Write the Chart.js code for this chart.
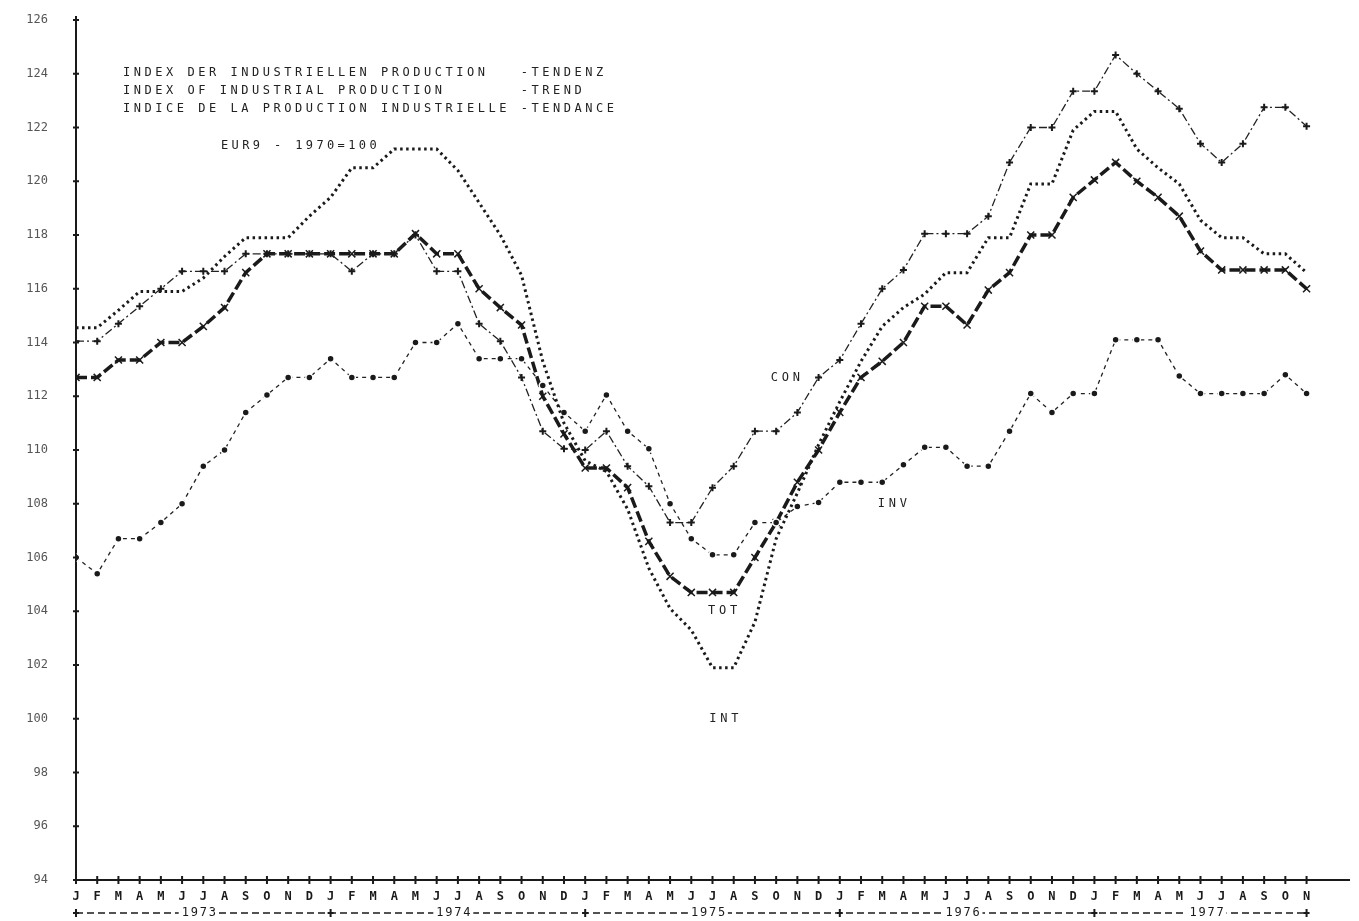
<!DOCTYPE html>
<html>
<head>
<meta charset="utf-8">
<script src="https://cdn.jsdelivr.net/npm/chart.js@4.4.1/dist/chart.umd.min.js"></script>
<style>
  html, body { margin: 0; padding: 0; background: #fff; }
  #wrap { width: 1359px; height: 921px; position: relative; }
</style>
</head>
<body>
<div id="wrap"><canvas id="c"></canvas></div>
<script>
// month letters and years for the time axis (Jan 1973 .. Nov 1977)
var MONTHS = ['J', 'F', 'M', 'A', 'M', 'J', 'J', 'A', 'S', 'O', 'N', 'D'];
var YEARS = ['1973', '1974', '1975', '1976', '1977'];
var NMONTHS = 59;

// y axis ticks
var Y_MIN = 94, Y_MAX = 126, Y_STEP = 2;

// series values, one per month
var TOT = [112.7, 112.7, 113.35, 113.35, 114.0, 114.0, 114.6, 115.3, 116.6, 117.3, 117.3, 117.3,
           117.3, 117.3, 117.3, 117.3, 118.05, 117.3, 117.3, 116.0, 115.3, 114.65, 112.0, 110.6,
           109.33, 109.33, 108.6, 106.6, 105.3, 104.7, 104.7, 104.7, 106.0, 107.3, 108.8, 110.0,
           111.4, 112.7, 113.3, 114.0, 115.35, 115.35, 114.65, 115.95, 116.6, 118.0, 118.0, 119.4,
           120.05, 120.7, 120.0, 119.4, 118.7, 117.4, 116.7, 116.7, 116.7, 116.7, 116.0];

var INT = [114.55, 114.55, 115.2, 115.9, 115.9, 115.9, 116.4, 117.2, 117.9, 117.9, 117.9, 118.7,
           119.4, 120.5, 120.5, 121.2, 121.2, 121.2, 120.4, 119.2, 118.0, 116.5, 113.3, 111.0,
           109.6, 109.2, 107.8, 105.6, 104.1, 103.3, 101.9, 101.9, 103.6, 106.7, 108.4, 110.2,
           111.8, 113.3, 114.6, 115.3, 115.8, 116.6, 116.6, 117.9, 117.9, 119.9, 119.9, 121.9,
           122.6, 122.6, 121.2, 120.5, 119.9, 118.55, 117.9, 117.9, 117.3, 117.3, 116.6];

var CON = [114.05, 114.05, 114.7, 115.35, 116.0, 116.65, 116.65, 116.65, 117.3, 117.3, 117.3, 117.3,
           117.3, 116.65, 117.3, 117.3, 118.0, 116.65, 116.65, 114.7, 114.05, 112.7, 110.7, 110.05,
           110.0, 110.7, 109.4, 108.65, 107.3, 107.3, 108.6, 109.4, 110.7, 110.7, 111.4, 112.7,
           113.35, 114.7, 116.0, 116.7, 118.05, 118.05, 118.05, 118.7, 120.7, 122.0, 122.0, 123.35,
           123.35, 124.7, 124.0, 123.35, 122.7, 121.4, 120.7, 121.4, 122.75, 122.75, 122.05];

var INV = [106.0, 105.4, 106.7, 106.7, 107.3, 108.0, 109.4, 110.0, 111.4, 112.05, 112.7, 112.7,
           113.4, 112.7, 112.7, 112.7, 114.0, 114.0, 114.7, 113.4, 113.4, 113.4, 112.4, 111.4,
           110.7, 112.05, 110.7, 110.05, 108.0, 106.7, 106.1, 106.1, 107.3, 107.3, 107.9, 108.05,
           108.8, 108.8, 108.8, 109.45, 110.1, 110.1, 109.4, 109.4, 110.7, 112.1, 111.4, 112.1,
           112.1, 114.1, 114.1, 114.1, 112.75, 112.1, 112.1, 112.1, 112.1, 112.8, 112.1];

var TITLE_LINES = [
    'INDEX DER INDUSTRIELLEN PRODUCTION   -TENDENZ',
    'INDEX OF INDUSTRIAL PRODUCTION       -TREND',
    'INDICE DE LA PRODUCTION INDUSTRIELLE -TENDANCE'
];
var SUBTITLE = 'EUR9 - 1970=100';

// series name tags, placed in data units
var TAGS = [
    { text: 'CON', x: 33.45, y: 112.7 },
    { text: 'INV', x: 38.5, y: 108.0 },
    { text: 'TOT', x: 30.5, y: 104.0 },
    { text: 'INT', x: 30.55, y: 100.0 }
];

var MONTH_LABELS = [];
YEARS.forEach(function (y) {
    MONTHS.forEach(function (m) { MONTH_LABELS.push(m); });
});
MONTH_LABELS = MONTH_LABELS.slice(0, NMONTHS);

function pts(arr) {
    return arr.map(function (v, i) { return { x: i, y: v }; });
}

var MONO = '"DejaVu Sans Mono", "Liberation Mono", monospace';
var INK = '#1a1a1a';

function spaced(ctx, s, x, y, cw) {
    for (var i = 0; i < s.length; i++) {
        if (s[i] !== ' ') ctx.fillText(s[i], x + i * cw, y);
    }
}

function plus(ctx, x, y, h, v) {
    ctx.beginPath();
    ctx.moveTo(x - h, y); ctx.lineTo(x + h, y);
    ctx.moveTo(x, y - v); ctx.lineTo(x, y + v);
    ctx.stroke();
}

var asciiPlugin = {
    id: 'ascii',
    afterDraw: function (chart) {
        var ctx = chart.ctx;
        var xs = chart.scales.x, ys = chart.scales.y;
        var left = chart.chartArea.left, bottom = chart.chartArea.bottom;
        ctx.save();
        ctx.strokeStyle = INK;
        ctx.fillStyle = INK;
        ctx.lineWidth = 2;

        // '+' marks on the y axis
        for (var v = Y_MIN; v <= Y_MAX; v += Y_STEP) {
            plus(ctx, left, ys.getPixelForValue(v), 3, 4);
        }
        // '+' marks on the x axis
        for (var i = 0; i < NMONTHS; i++) {
            plus(ctx, xs.getPixelForValue(i), bottom, 3, 4);
        }

        // year row
        var yy = 913;
        var x0 = xs.getPixelForValue(0), x1 = xs.getPixelForValue(NMONTHS - 1);
        ctx.lineWidth = 1.5;
        ctx.setLineDash([7, 4]);
        ctx.beginPath();
        ctx.moveTo(x0, yy); ctx.lineTo(x1, yy);
        ctx.stroke();
        ctx.setLineDash([]);
        ctx.lineWidth = 2;
        for (var k = 0; k < YEARS.length; k++) {
            plus(ctx, xs.getPixelForValue(k * 12), yy, 3, 4);
        }
        plus(ctx, x1, yy, 3, 4);
        ctx.font = '12px ' + MONO;
        ctx.textBaseline = 'middle';
        ctx.textAlign = 'left';
        for (k = 0; k < YEARS.length; k++) {
            var end = Math.min(k * 12 + 11, NMONTHS - 1);
            var cx = (xs.getPixelForValue(k * 12) + xs.getPixelForValue(end)) / 2 + 6;
            var w = YEARS[k].length * 9;
            ctx.fillStyle = '#fff';
            ctx.fillRect(cx - w / 2 - 2, yy - 7, w + 4, 14);
            ctx.fillStyle = INK;
            spaced(ctx, YEARS[k], cx - w / 2 + 1, yy, 9);
        }

        // title block
        ctx.font = '12px ' + MONO;
        ctx.fillStyle = '#222';
        var cw = 10.75;
        TITLE_LINES.forEach(function (line, j) {
            spaced(ctx, line, left + 47, 73 + j * 18, cw);
        });
        spaced(ctx, SUBTITLE, left + 145, 146, 10.6);

        // series tags
        TAGS.forEach(function (t) {
            var px = xs.getPixelForValue(t.x), py = ys.getPixelForValue(t.y);
            spaced(ctx, t.text, px - 15, py, 11);
        });
        ctx.restore();
    }
};

var ctx = document.getElementById('c').getContext('2d');
new Chart(ctx, {
    type: 'line',
    data: {
        datasets: [
            {
                label: 'INT',
                data: pts(INT),
                borderColor: INK,
                borderWidth: 3,
                borderDash: [2.5, 3.5],
                pointRadius: 0,
                tension: 0
            },
            {
                label: 'CON',
                data: pts(CON),
                borderColor: '#222',
                borderWidth: 1.3,
                borderDash: [8, 3, 2, 3],
                pointStyle: 'cross',
                pointRadius: 3.5,
                pointBorderWidth: 2,
                pointBorderColor: INK,
                tension: 0
            },
            {
                label: 'INV',
                data: pts(INV),
                borderColor: '#222',
                borderWidth: 1.3,
                borderDash: [4, 4],
                pointStyle: 'circle',
                pointRadius: 3.5,
                pointBorderWidth: 1.5,
                pointBackgroundColor: INK,
                pointBorderColor: '#fff',
                tension: 0
            },
            {
                label: 'TOT',
                data: pts(TOT),
                borderColor: INK,
                borderWidth: 3.5,
                borderDash: [11, 4],
                pointStyle: 'crossRot',
                pointRadius: 5,
                pointBorderWidth: 1.5,
                pointBorderColor: INK,
                tension: 0
            }
        ]
    },
    options: {
        responsive: true,
        maintainAspectRatio: false,
        animation: false,
        layout: { padding: { top: 20, right: 0, bottom: 0, left: 0 } },
        plugins: {
            legend: { display: false },
            tooltip: { enabled: false }
        },
        scales: {
            x: {
                type: 'linear',
                min: 0,
                max: 60,
                afterFit: function (s) { s.height = 41; },
                border: { display: true, color: INK, width: 2, dash: [6, 4] },
                grid: { display: false, drawTicks: false },
                ticks: {
                    stepSize: 1,
                    autoSkip: false,
                    maxRotation: 0,
                    padding: 10,
                    color: INK,
                    font: { family: MONO, size: 12, weight: 'bold' },
                    callback: function (v) { return v < NMONTHS ? MONTH_LABELS[v] : ''; }
                }
            },
            y: {
                min: Y_MIN,
                max: Y_MAX,
                afterFit: function (s) {
                    s.width = 76;
                    s.paddingTop = 0;
                    s.paddingBottom = 0;
                },
                border: { display: true, color: INK, width: 2, dash: [10, 6] },
                grid: { display: false, drawTicks: false },
                ticks: {
                    stepSize: Y_STEP,
                    padding: 28,
                    color: '#555',
                    font: { family: MONO, size: 12 }
                }
            }
        }
    },
    plugins: [asciiPlugin]
});
</script>
</body>
</html>
